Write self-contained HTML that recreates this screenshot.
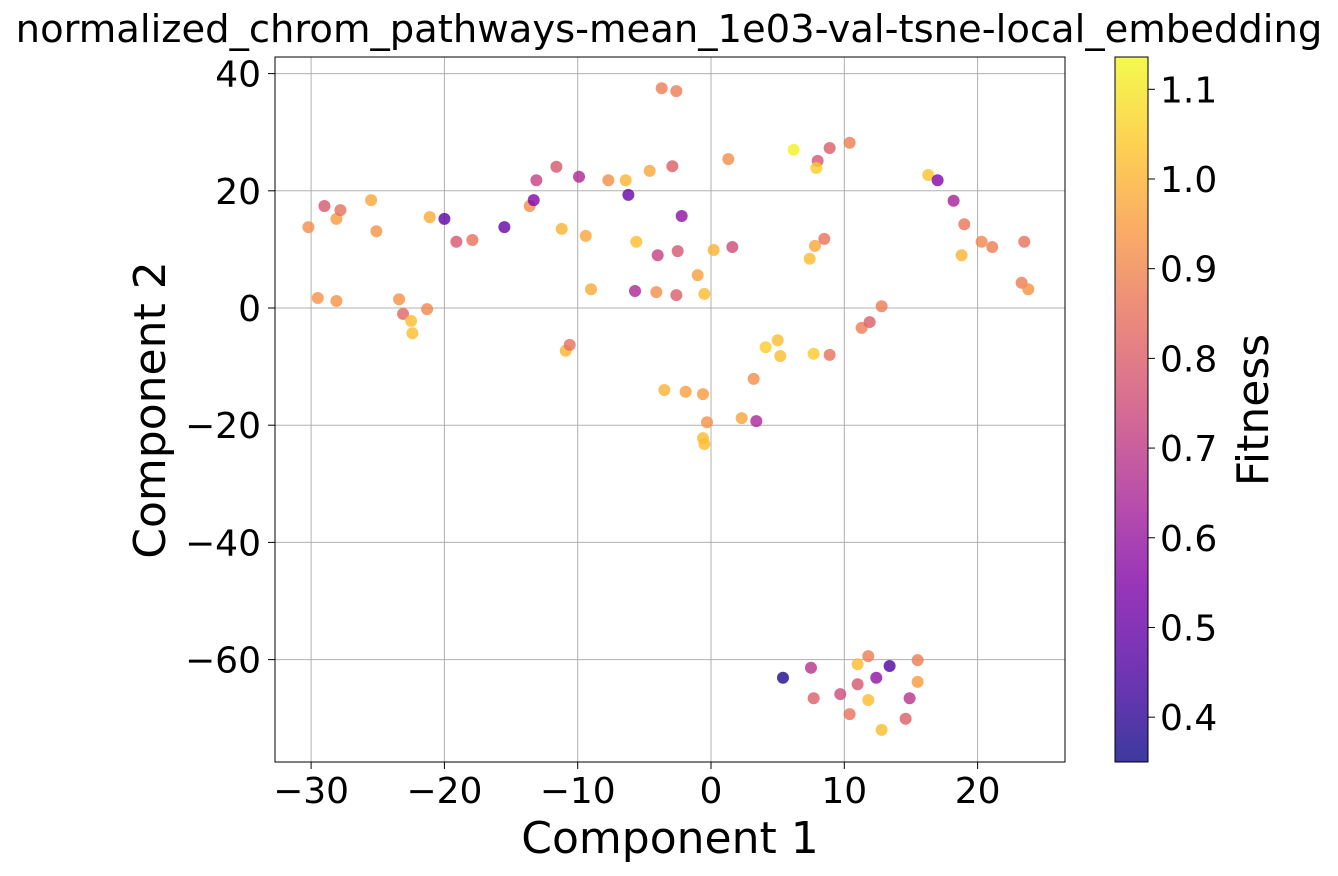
<!DOCTYPE html>
<html><head><meta charset="utf-8"><style>
body{margin:0;background:#fff;font-family:"DejaVu Sans","Liberation Sans",sans-serif}
svg text{font-family:"DejaVu Sans","Liberation Sans",sans-serif;fill:#000}
</style></head><body>
<svg id="c" width="1338" height="872">
<defs><linearGradient id="cb" x1="0" y1="1" x2="0" y2="0">
<stop offset="0" stop-color="#0d0887"/><stop offset="0.125" stop-color="#4c02a1"/><stop offset="0.25" stop-color="#7e03a8"/><stop offset="0.375" stop-color="#a92395"/><stop offset="0.5" stop-color="#cc4778"/><stop offset="0.625" stop-color="#e56b5d"/><stop offset="0.75" stop-color="#f89540"/><stop offset="0.875" stop-color="#fdc527"/><stop offset="1" stop-color="#f0f921"/></linearGradient></defs>
<text x="669" y="42" font-size="38.5" text-anchor="middle">normalized_chrom_pathways-mean_1e03-val-tsne-local_embedding</text>
<g id="grid"></g><g id="pts"></g>
<rect x="275" y="57" width="790" height="705" fill="none" stroke="#000" stroke-width="1"/>
<g id="axes"></g>
<text x="670" y="853" font-size="44" text-anchor="middle">Component 1</text>
<text transform="translate(165,410) rotate(-90)" font-size="44" text-anchor="middle">Component 2</text>
<rect x="1115" y="57" width="33" height="705" fill="url(#cb)" opacity="0.8"/>
<rect x="1115" y="57" width="33" height="705" fill="none" stroke="#000" stroke-width="1"/>
<g id="cbt"></g>
<text transform="translate(1268,410) rotate(-90)" font-size="44" text-anchor="middle">Fitness</text>
</svg>
<script>
const xs=[-30.2,-29.5,-29.0,-28.1,-28.1,-27.8,-25.5,-25.1,-23.4,-23.1,-22.5,-22.4,-21.3,-21.1,-20.0,-19.1,-17.9,-15.5,-13.6,-13.3,-13.1,-11.6,-11.2,-10.9,-10.6,-9.9,-9.4,-9.0,-7.7,-6.4,-6.2,-5.7,-5.6,-4.6,-4.1,-4.0,-3.7,-3.5,-2.9,-2.6,-2.6,-2.5,-2.2,-1.9,-1.0,-0.6,-0.6,-0.5,-0.5,-0.3,0.2,1.3,1.6,2.3,3.2,3.4,4.1,5.0,5.2,6.2,7.4,7.7,7.8,8.0,7.9,8.5,8.9,8.9,10.4,11.3,11.9,12.8,16.3,17.0,18.2,18.8,19.0,20.3,21.1,23.3,23.5,23.8,5.4,7.5,7.7,9.7,10.4,11.0,11.0,11.8,11.8,12.4,12.8,13.4,14.6,14.9,15.5,15.5];
const ys=[13.8,1.7,17.4,15.2,1.2,16.7,18.4,13.1,1.5,-1.0,-2.2,-4.3,-0.2,15.5,15.2,11.3,11.6,13.8,17.4,18.4,21.8,24.1,13.5,-7.3,-6.3,22.4,12.3,3.2,21.8,21.8,19.3,2.9,11.3,23.4,2.7,9.0,37.5,-14.0,24.2,37.0,2.2,9.7,15.7,-14.3,5.6,-14.7,-22.2,2.4,-23.2,-19.5,9.9,25.4,10.4,-18.8,-12.1,-19.3,-6.7,-5.5,-8.2,27.0,8.4,-7.8,10.6,25.1,23.9,11.8,-8.0,27.3,28.2,-3.4,-2.4,0.3,22.7,21.8,18.3,9.0,14.3,11.3,10.4,4.3,11.3,3.2,-63.1,-61.4,-66.6,-65.9,-69.3,-64.2,-60.8,-59.4,-66.9,-63.1,-72.0,-61.1,-70.1,-66.6,-60.1,-63.8];
const fit=[0.92,0.93,0.78,0.95,0.93,0.85,0.97,0.93,0.93,0.82,1.02,1.02,0.9,0.98,0.48,0.78,0.85,0.5,0.92,0.55,0.72,0.78,1.0,1.0,0.85,0.65,0.97,0.98,0.92,1.0,0.5,0.65,1.02,0.97,0.92,0.72,0.88,1.0,0.8,0.88,0.8,0.78,0.58,0.96,0.96,0.95,1.02,1.02,1.02,0.93,1.0,0.92,0.75,0.97,0.92,0.65,1.05,1.02,1.02,1.12,1.02,1.05,0.97,0.78,1.05,0.85,0.85,0.8,0.88,0.88,0.8,0.88,1.03,0.55,0.63,1.0,0.86,0.9,0.88,0.88,0.85,0.93,0.37,0.68,0.8,0.75,0.85,0.78,1.02,0.88,1.02,0.58,1.02,0.45,0.8,0.68,0.88,0.95];
const xTicks=[-30,-20,-10,0,10,20];
const yTicks=[40,20,0,-20,-40,-60];
const cTicks=[0.4,0.5,0.6,0.7,0.8,0.9,1.0,1.1];
const NS='http://www.w3.org/2000/svg';
const X=v=>711+v*13.33, Y=v=>308-v*5.86;
const vmin=0.35,vmax=1.136;
const CB=v=>762-(v-vmin)/(vmax-vmin)*705;
const stops=[[13,8,135],[76,2,161],[126,3,168],[169,35,149],[204,71,120],[229,107,93],[248,149,64],[253,197,39],[240,249,33]];
function cmap(v){let t=Math.max(0,Math.min(1,(v-vmin)/(vmax-vmin)))*8;let i=Math.min(7,Math.floor(t)),f=t-i;const a=stops[i],b=stops[i+1];return 'rgb('+a.map((c,k)=>Math.round(c+(b[k]-c)*f)).join(',')+')';}
function mk(tag,at,par){const e=document.createElementNS(NS,tag);for(const k in at)e.setAttribute(k,at[k]);par.appendChild(e);return e;}
const g=document.getElementById('grid'),ax=document.getElementById('axes'),pts=document.getElementById('pts'),cbt=document.getElementById('cbt');
const fmt=v=>(v<0?'\u2212':'')+Math.abs(v);
xTicks.forEach(v=>{const x=X(v);
const l=mk('line',{x1:x,x2:x,y1:57,y2:762,stroke:'#b0b0b0','stroke-width':1},g);


mk('line',{x1:x,x2:x,y1:762,y2:769,stroke:'#000'},ax);
const t=mk('text',{x:x,y:803,'font-size':36,'text-anchor':'middle'},ax);t.textContent=fmt(v);

});
yTicks.forEach(v=>{const y=Y(v);
const l=mk('line',{x1:275,x2:1065,y1:y,y2:y,stroke:'#b0b0b0','stroke-width':1},g);


mk('line',{x1:268,x2:275,y1:y,y2:y,stroke:'#000'},ax);
const t=mk('text',{x:261,y:y+13,'font-size':36,'text-anchor':'end'},ax);t.textContent=fmt(v);

});
cTicks.forEach(v=>{const y=CB(v);
mk('line',{x1:1148,x2:1155,y1:y,y2:y,stroke:'#000'},cbt);
const t=mk('text',{x:1160,y:y+13,'font-size':36},cbt);t.textContent=v.toFixed(1);

});
xs.forEach((v,i)=>{const c=mk('circle',{cx:X(v),cy:Y(ys[i]),r:6,fill:cmap(fit[i]),'fill-opacity':0.8},pts);

});
</script>
</body></html>
